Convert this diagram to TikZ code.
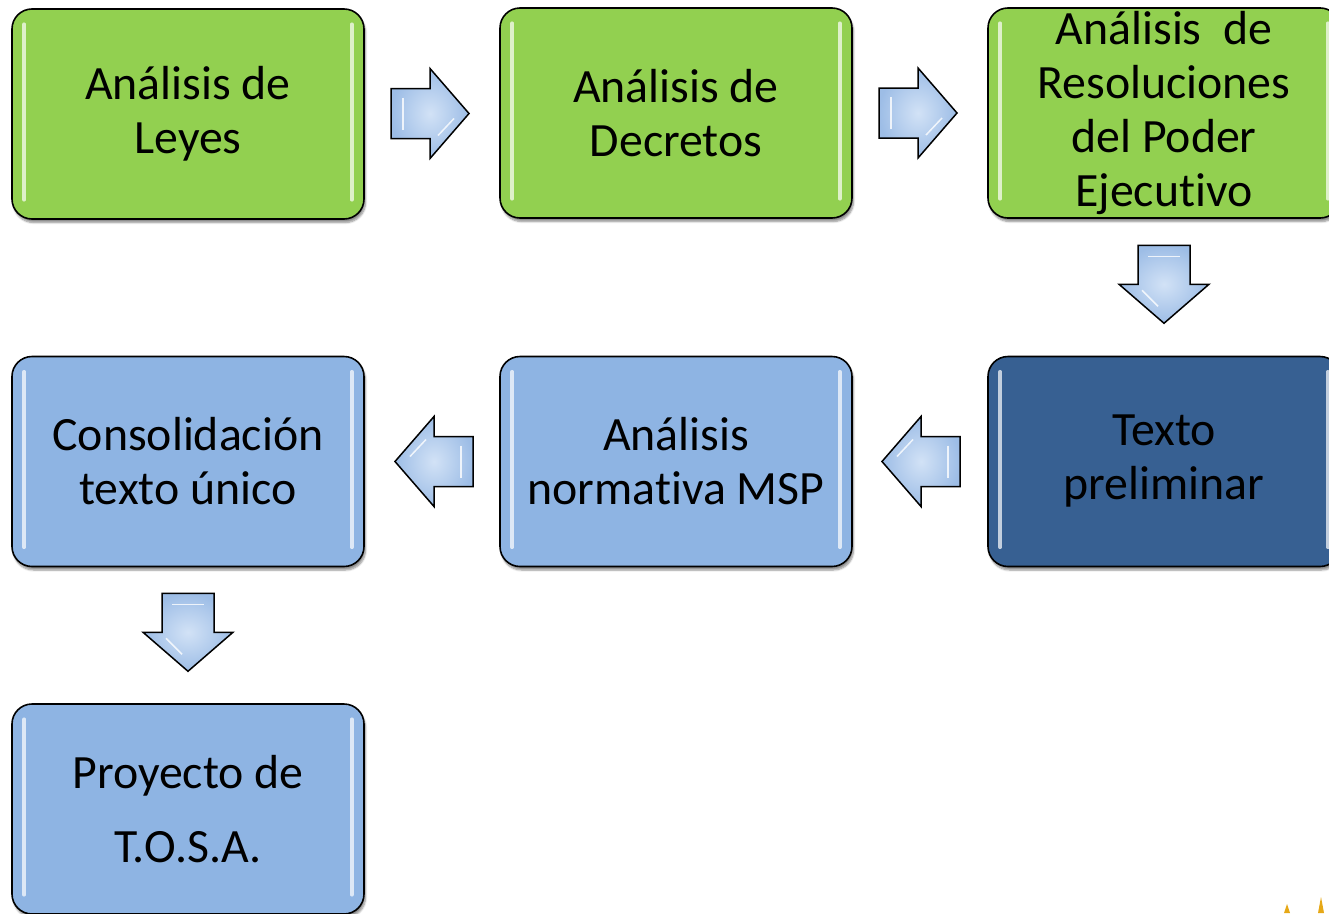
\documentclass[tikz,border=0pt]{standalone}
\usepackage{fontspec}
\setmainfont{Carlito}[Ligatures={NoCommon}]
\newcommand\tI{t\kern0pt i}
\usetikzlibrary{calc,shadows.blur}
\definecolor{boxgreen}{HTML}{92D050}
\definecolor{boxblue}{HTML}{8EB4E3}
\definecolor{boxdark}{HTML}{376092}
\definecolor{arrowin}{HTML}{D2E2F6}
\definecolor{arrowout}{HTML}{9DBDE6}
\definecolor{spark}{HTML}{E6A817}
\tikzset{
  stepbox/.style={draw=black, line width=1.6pt, rounded corners=20pt,
    minimum width=352pt, minimum height=210pt, align=center,
    font=\fontsize{47.8}{54}\selectfont,
    blur shadow={shadow xshift=1.5pt, shadow yshift=-3.5pt, shadow blur steps=6, shadow opacity=45}},
  greenbox/.style={stepbox, fill=boxgreen},
  bluebox/.style={stepbox, fill=boxblue},
  darkbox/.style={stepbox, fill=boxdark},
  hl/.style={line width=3.5pt, line cap=round, draw=white, opacity=0.7},
  barrow/.style={draw=black, line width=1.5pt, line join=miter, inner color=arrowin, outer color=arrowout},
  bevel/.style={draw=white, line width=1.5pt, opacity=0.8},
  pics/rarrow/.style={code={
    \path[barrow] (-39,-25) -- (0,-25) -- (0,-45) -- (39,0) -- (0,45) -- (0,25) -- (-39,25) -- cycle;
    \draw[bevel] (-27,-16) -- (-27,16); \draw[bevel] (8,22) -- (24,5);
  }},
  pics/larrow/.style={code={
    \path[barrow] (39,-25) -- (0,-25) -- (0,-45) -- (-39,0) -- (0,45) -- (0,25) -- (39,25) -- cycle;
    \draw[bevel] (27,-16) -- (27,16); \draw[bevel] (-8,-22) -- (-24,-5);
  }},
  pics/darrow/.style={code={
    \path[barrow] (-26,-39) -- (-26,0) -- (-45,0) -- (0,39) -- (45,0) -- (26,0) -- (26,-39) -- cycle;
    \draw[bevel] (-16,-28) -- (16,-28); \draw[bevel] (-22,6) -- (-6,22);
  }},
}
\begin{document}
\begin{tikzpicture}[x=1pt,y=-1pt]
\useasboundingbox (0,0) rectangle (1329,913);

\node[greenbox] (b1) at (188,114) {Análisis de\\Leyes};
\node[greenbox] (b2) at (676,113) {Análisis de\\Decretos};
\node[greenbox] (b3) at (1164,113) {Análisis\ \ de\\Resoluciones\\del Poder\\Ejecu\tI vo};
\node[darkbox]  (b6) at (1164,461.5) {Texto\\preliminar};
\node[bluebox]  (b5) at (676,461.5) {Análisis\\norma\tI va MSP};
\node[bluebox]  (b4) at (188,461.5) {Consolidación\\texto único};
\node[bluebox, font=\fontsize{47.8}{74}\selectfont] (b7) at (188,809) {Proyecto de\\T.O.S.A.};

\foreach \b in {b1,b2,b3,b4,b5,b6,b7}{
  \draw[hl] ($(\b.north west)+(13,16)$) -- ($(\b.south west)+(13,-20)$);
  \draw[hl] ($(\b.north east)+(-13,16)$) -- ($(\b.south east)+(-13,-20)$);
}

\coordinate (a12) at ($(b1.east)!0.5!(b2.west)+(-2,0)$);
\coordinate (a23) at ($(b2.east)!0.5!(b3.west)+(-2,0)$);
\coordinate (a36) at ($(b3.south)!0.5!(b6.north)+(0,-3)$);
\coordinate (a65) at ($(b6.west)!0.5!(b5.east)+(1,0)$);
\coordinate (a54) at ($(b5.west)!0.5!(b4.east)+(2,0)$);
\coordinate (a47) at ($(b4.south)!0.5!(b7.north)+(0,-3)$);

\pic at (a12) {rarrow};
\pic at (a23) {rarrow};
\pic at (a36) {darrow};
\pic at (a65) {larrow};
\pic at (a54) {larrow};
\pic at (a47) {darrow};

\fill[spark] (1284,913) -- (1287,904) -- (1290,913) -- cycle;
\fill[spark] (1318,913) -- (1321,897) -- (1324,913) -- cycle;
\end{tikzpicture}
\end{document}
